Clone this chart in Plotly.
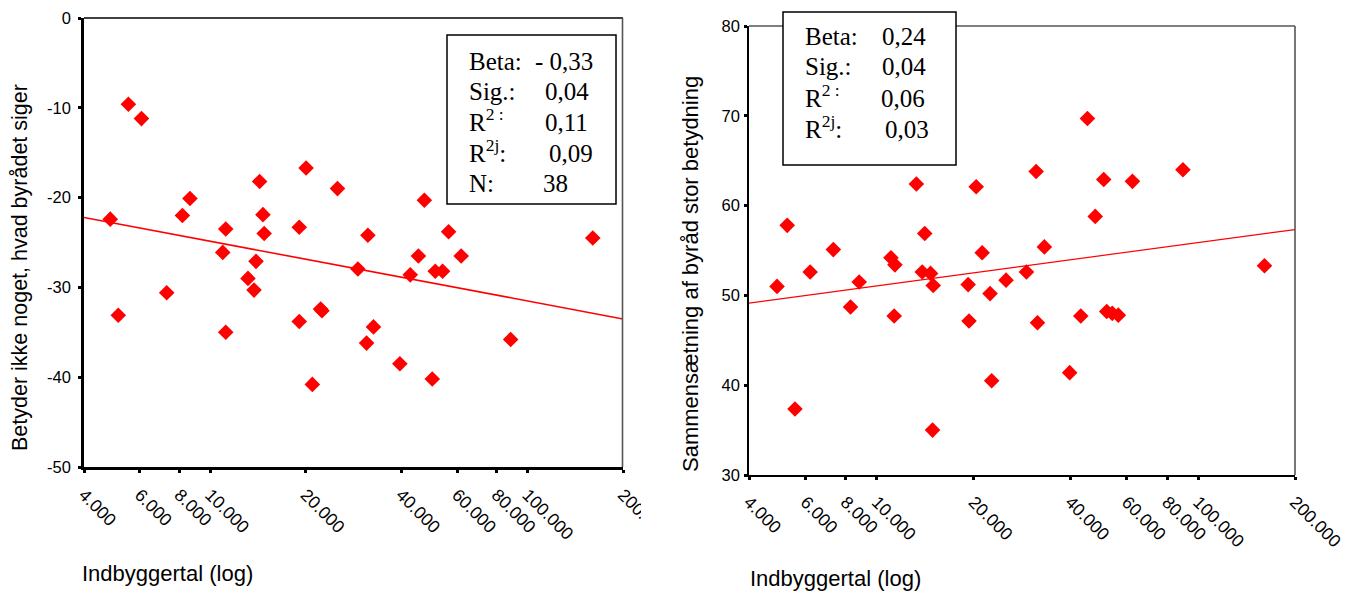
import numpy as np
import plotly.graph_objects as go

# ---------------- data ----------------
tick_vals = [4000, 6000, 8000, 10000, 20000, 40000, 60000, 80000, 100000, 200000]
tick_text = ["4.000", "6.000", "8.000", "10.000", "20.000", "40.000",
             "60.000", "80.000", "100.000", "200.000"]

left_pop = [4840, 5520, 6070, 8630, 8170, 11190, 10950, 14310, 14660, 14790,
            13940, 13150, 13740, 20050, 19080, 25180, 7290, 5130, 11190, 19080,
            22280, 22500, 20980, 47300, 31400, 56400, 45300, 61800, 29200, 42700,
            51200, 54000, 160600, 32700, 31100, 39600, 50100, 88500]
left_val = [-22.4, -9.6, -11.2, -20.1, -22.0, -23.5, -26.1, -18.2, -21.9, -24.0,
            -27.1, -29.0, -30.3, -16.7, -23.3, -19.0, -30.6, -33.1, -35.0, -33.8,
            -32.4, -32.6, -40.8, -20.3, -24.2, -23.8, -26.5, -26.5, -27.95, -28.6,
            -28.2, -28.2, -24.5, -34.4, -36.2, -38.5, -40.2, -35.8]

right_pop = [4890, 5260, 6200, 7320, 8810, 11060, 11380, 13270, 14090, 13840,
             14690, 14970, 20370, 21260, 19230, 22500, 25230, 8280, 11320, 19350,
             22760, 5560, 14900, 45200, 31300, 50800, 62400, 89600, 47800, 33200,
             29200, 160700, 31600, 43100, 51900, 54000, 56400, 39800]
right_val = [51.0, 57.8, 52.6, 55.1, 51.5, 54.2, 53.4, 62.4, 56.9, 52.6,
             52.45, 51.1, 62.1, 54.75, 51.2, 50.2, 51.7, 48.7, 47.7, 47.15,
             40.5, 37.35, 35.0, 69.7, 63.8, 62.9, 62.7, 64.0, 58.8, 55.4,
             52.6, 53.3, 46.96, 47.7, 48.2, 48.0, 47.8, 41.4]

left_yticks = [0, -10, -20, -30, -40, -50]
left_ytick_text = ["0", "-10", "-20", "-30", "-40", "-50"]
right_yticks = [30, 40, 50, 60, 70, 80]
right_ytick_text = ["30", "40", "50", "60", "70", "80"]

left_title_y = "Betyder ikke noget, hvad byrådet siger"
right_title_y = "Sammensætning af byråd stor betydning"
title_x = "Indbyggertal (log)"

left_stat_labels = ["Beta:", "Sig.:", "R<sup>2 :</sup>", "R<sup>2j</sup>:", "N:"]
left_stat_values = ["- 0,33", "0,04", "0,11", "0,09", "38"]
right_stat_labels = ["Beta:", "Sig.:", "R<sup>2 :</sup>", "R<sup>2j</sup>:"]
right_stat_values = ["0,24", "0,04", "0,06", "0,03"]

# ---------------- layout helpers ----------------
W, H = 1350, 593


def px(x):
    return x / W


def py(y):
    return 1 - y / H


RED = "#ff0000"
SANS = "Arial, Liberation Sans, sans-serif"
SERIF = "Times New Roman, Liberation Serif, serif"

xr = [np.log10(tick_vals[0]), np.log10(tick_vals[-1])]


def fit_line(xs, ys):
    lx = np.log10(np.array(xs, dtype=float))
    b, a = np.polyfit(lx, np.array(ys, dtype=float), 1)
    ex = np.array([tick_vals[0], tick_vals[-1]], dtype=float)
    return ex, a + b * np.log10(ex)


fig = go.Figure()

fig.add_trace(go.Scatter(x=left_pop, y=left_val, mode="markers", xaxis="x", yaxis="y",
                         marker=dict(symbol="diamond", size=12, color=RED,
                                     line=dict(width=0)),
                         showlegend=False, hoverinfo="x+y"))
lx, ly = fit_line(left_pop, left_val)
fig.add_trace(go.Scatter(x=lx, y=ly, mode="lines", xaxis="x", yaxis="y",
                         line=dict(color=RED, width=1.6), showlegend=False,
                         hoverinfo="skip"))

fig.add_trace(go.Scatter(x=right_pop, y=right_val, mode="markers", xaxis="x2", yaxis="y2",
                         marker=dict(symbol="diamond", size=12, color=RED,
                                     line=dict(width=0)),
                         showlegend=False, hoverinfo="x+y"))
rx, ry = fit_line(right_pop, right_val)
fig.add_trace(go.Scatter(x=rx, y=ry, mode="lines", xaxis="x2", yaxis="y2",
                         line=dict(color=RED, width=1.2), showlegend=False,
                         hoverinfo="skip"))

axis_common = dict(showgrid=False, zeroline=False, showline=True, linecolor="black",
                   automargin=False,
                   ticks="outside", ticklen=3, tickwidth=3, tickcolor="black")
xfont = dict(family=SANS, size=17.5, color="black")
yfont = dict(family=SANS, size=16.5, color="black")

fig.update_layout(
    template="none",
    width=W, height=H, autosize=False,
    margin=dict(l=0, r=0, t=0, b=0, autoexpand=False),
    paper_bgcolor="white", plot_bgcolor="white",
    xaxis=dict(type="log", range=xr, domain=[px(84), px(623)], anchor="y",
               tickvals=tick_vals, ticktext=tick_text, tickangle=45,
               tickfont=xfont, ticklabelstandoff=5,
               linewidth=2.5, **axis_common),
    yaxis=dict(range=[-50, 0], domain=[py(467), py(18)], anchor="x",
               tickvals=left_yticks, ticktext=left_ytick_text,
               tickfont=yfont, ticklabelstandoff=4,
               linewidth=2.5, **axis_common),
    xaxis2=dict(type="log", range=xr, domain=[px(749), px(1295)], anchor="y2",
                tickvals=tick_vals, ticktext=tick_text, tickangle=45,
                tickfont=xfont, ticklabelstandoff=5,
                linewidth=2.2, **axis_common),
    yaxis2=dict(range=[30, 80], domain=[py(475), py(26)], anchor="x2",
                tickvals=right_yticks, ticktext=right_ytick_text,
                tickfont=yfont, ticklabelstandoff=1,
                linewidth=1.6, **axis_common),
)

shapes = []
# top / right frame lines
shapes.append(dict(type="line", xref="paper", yref="paper", x0=px(84), x1=px(623),
                   y0=py(18), y1=py(18), line=dict(color="black", width=1.6)))
shapes.append(dict(type="line", xref="paper", yref="paper", x0=px(622.5), x1=px(622.5),
                   y0=py(18), y1=py(467), line=dict(color="#555555", width=1.6)))
shapes.append(dict(type="line", xref="paper", yref="paper", x0=px(749), x1=px(1295),
                   y0=py(26), y1=py(26), line=dict(color="black", width=1.2)))
shapes.append(dict(type="line", xref="paper", yref="paper", x0=px(1295), x1=px(1295),
                   y0=py(26), y1=py(475), line=dict(color="#555555", width=1.6)))
# stat boxes
shapes.append(dict(type="rect", xref="paper", yref="paper", x0=px(447), x1=px(616),
                   y0=py(204), y1=py(35), fillcolor="white",
                   line=dict(color="black", width=1.5)))
shapes.append(dict(type="rect", xref="paper", yref="paper", x0=px(783), x1=px(956),
                   y0=py(165), y1=py(12), fillcolor="white",
                   line=dict(color="black", width=1.5)))
# crop of the left chart's last tick label (as in the reference)
shapes.append(dict(type="rect", xref="paper", yref="paper", x0=px(641), x1=px(690),
                   y0=py(560), y1=py(470), fillcolor="white", line=dict(width=0),
                   layer="above"))
fig.update_layout(shapes=shapes)

ann = []
# axis titles
ann.append(dict(text=left_title_y, x=px(20), y=py(268), xref="paper", yref="paper",
                textangle=-90, showarrow=False, xanchor="center", yanchor="middle",
                font=dict(family=SANS, size=21.5, color="black")))
ann.append(dict(text=right_title_y, x=px(690), y=py(274), xref="paper", yref="paper",
                textangle=-90, showarrow=False, xanchor="center", yanchor="middle",
                font=dict(family=SANS, size=22, color="black")))
ann.append(dict(text=title_x, x=px(80), y=py(573), xref="paper", yref="paper",
                showarrow=False, xanchor="left", yanchor="middle",
                font=dict(family=SANS, size=22, color="black")))
ann.append(dict(text=title_x, x=px(748), y=py(578), xref="paper", yref="paper",
                showarrow=False, xanchor="left", yanchor="middle",
                font=dict(family=SANS, size=22, color="black")))

# stats text
left_base = [70, 100, 131, 162, 192]
left_vx = [533, 543, 543, 547, 541]
for lab, val, b, vx in zip(left_stat_labels, left_stat_values, left_base, left_vx):
    ann.append(dict(text=lab, x=px(467), y=py(b + 7), xref="paper", yref="paper",
                    showarrow=False, xanchor="left", yanchor="bottom",
                    font=dict(family=SERIF, size=25, color="black")))
    ann.append(dict(text=val, x=px(vx), y=py(b + 7), xref="paper", yref="paper",
                    showarrow=False, xanchor="left", yanchor="bottom",
                    font=dict(family=SERIF, size=25, color="black")))

right_base = [45, 75, 107, 138]
right_vx = [880, 880, 879, 883]
for lab, val, b, vx in zip(right_stat_labels, right_stat_values, right_base, right_vx):
    ann.append(dict(text=lab, x=px(803), y=py(b + 7), xref="paper", yref="paper",
                    showarrow=False, xanchor="left", yanchor="bottom",
                    font=dict(family=SERIF, size=25, color="black")))
    ann.append(dict(text=val, x=px(vx), y=py(b + 7), xref="paper", yref="paper",
                    showarrow=False, xanchor="left", yanchor="bottom",
                    font=dict(family=SERIF, size=25, color="black")))

fig.update_layout(annotations=ann)

fig.write_html("out.html",
               config={"displayModeBar": False},
               post_script="document.body.style.margin='0';"
                           "document.body.style.overflow='hidden';")
